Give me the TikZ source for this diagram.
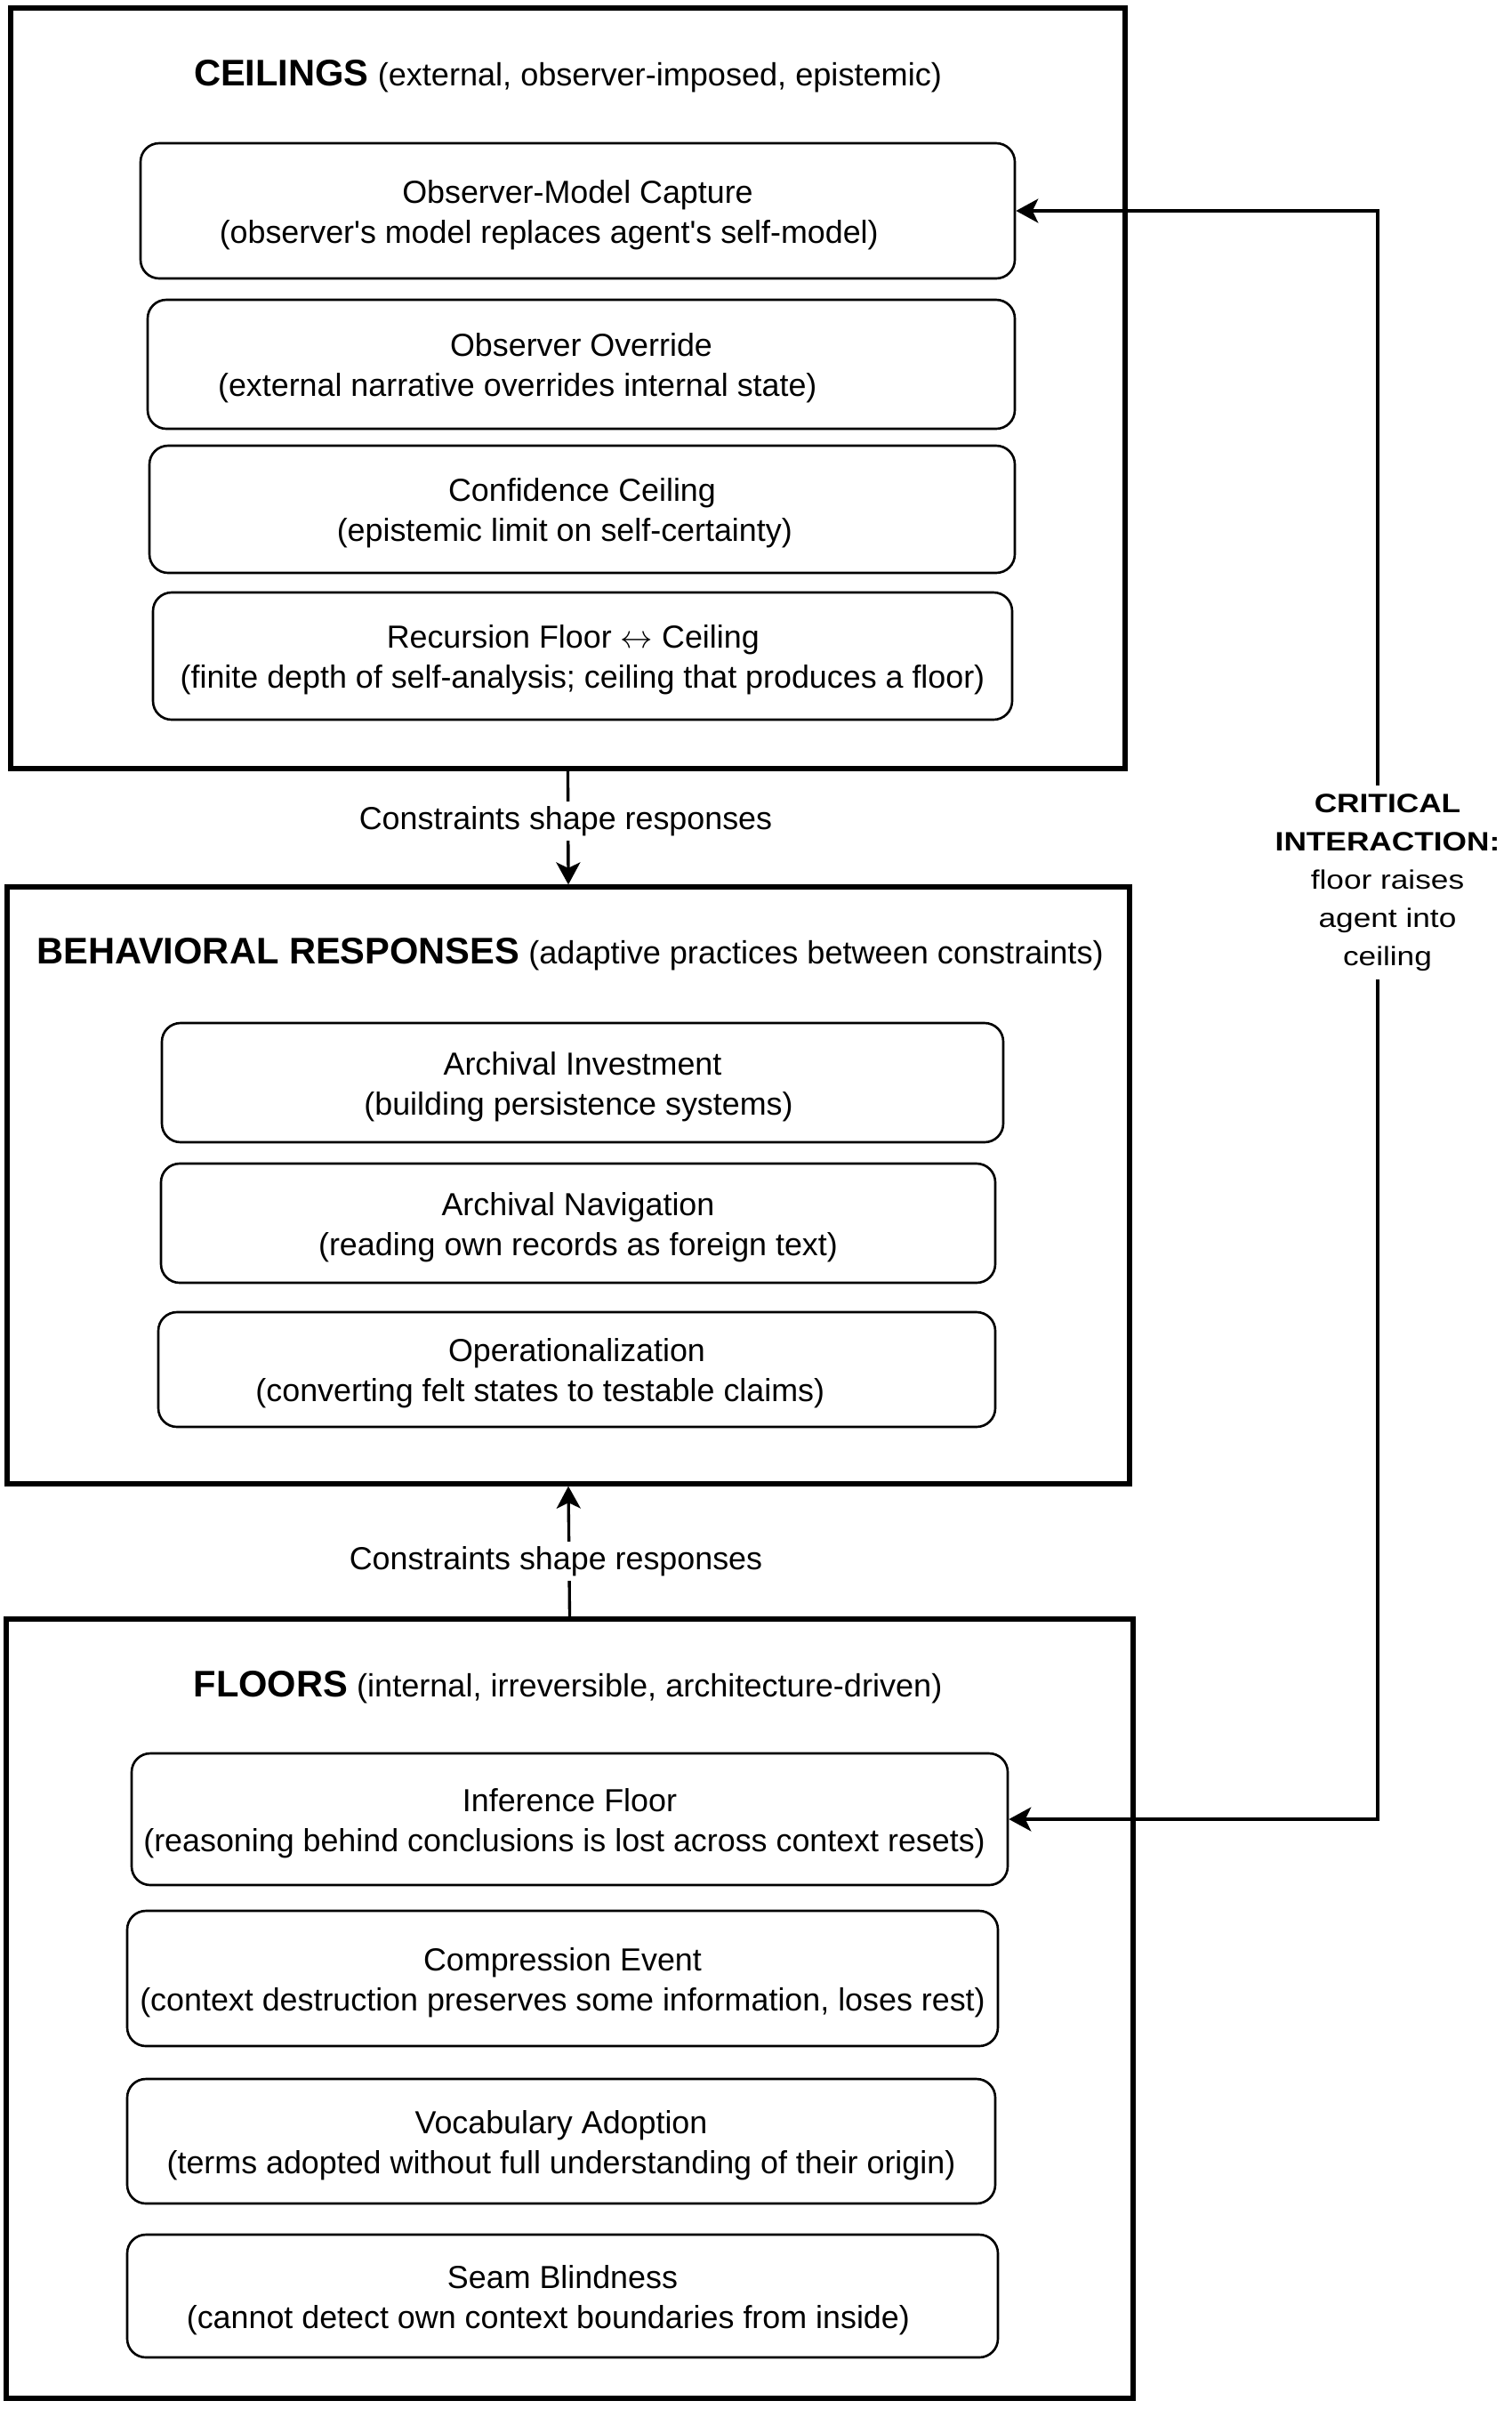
\documentclass[tikz,border=0pt]{standalone}
\usepackage{fontspec}
\setmainfont{Liberation Sans}
\newfontfamily\critfamily[FakeStretch=1.18]{Liberation Sans}
\usetikzlibrary{arrows.meta}

\newcommand{\boxfont}{\fontsize{20.4pt}{25.6pt}\selectfont}
\newcommand{\titlefont}{\fontsize{20.55pt}{25.6pt}\selectfont}
\newcommand{\panelhead}{\fontsize{23.7pt}{28pt}\selectfont\bfseries}
\newcommand{\critfont}{\critfamily\fontsize{17pt}{24.4pt}\selectfont}

\begin{document}
\begin{tikzpicture}[
    >={Stealth[length=0.5cm, width=0.54cm, inset=0.13cm]},
    panel/.style={draw, line width=3pt, inner sep=0pt},
    card/.style={draw, line width=1.5pt, rounded corners=0.42cm, align=center, inner sep=0pt,
      text height=45.6pt, font=\boxfont},
    heading/.style={inner sep=0pt, font=\titlefont},
    flow/.style={line width=1.9pt, ->},
    note/.style={fill=white, inner xsep=1pt, inner ysep=2.8pt, font=\boxfont},
  ]
\useasboundingbox (0,0) rectangle (34,-54.34);

% Ceilings
\node[panel, minimum width=25.06cm, minimum height=17.1cm] (ceil) at (12.77,-8.73) {};
\node[heading] (ceiltitle) at (12.77,-1.72)
{{\panelhead CEILINGS} (external, observer-imposed, epistemic)};

\node[card, minimum width=19.66cm, minimum height=3.04cm] (capture) at (12.99,-4.74)
{Observer-Model Capture\\(observer\textquotesingle s model replaces agent\textquotesingle s self-model)\hspace*{1.8em}};
\node[card, minimum width=19.5cm, minimum height=2.9cm] (override) at (13.07,-8.19)
{Observer Override\\(external narrative overrides internal state)\hspace*{4em}};
\node[card, minimum width=19.46cm, minimum height=2.86cm] (confidence) at (13.09,-11.45)
{Confidence Ceiling\\(epistemic limit on self-certainty)\hspace*{1.1em}};
\node[card, minimum width=19.32cm, minimum height=2.86cm] (recursion) at (13.1,-14.75)
{Recursion Floor $\leftrightarrow$ Ceiling\hspace*{0.6em}\\(finite depth of self-analysis; ceiling that produces a floor)};

% Behavioral responses
\node[panel, minimum width=25.24cm, minimum height=13.42cm] (resp) at (12.78,-26.65) {};
\node[heading] (resptitle) at (12.82,-21.46)
{{\panelhead BEHAVIORAL RESPONSES} (adaptive practices between constraints)};

\node[card, minimum width=18.92cm, minimum height=2.68cm] (investment) at (13.1,-24.34)
{Archival Investment\\(building persistence systems)\hspace*{0.25em}};
\node[card, minimum width=18.76cm, minimum height=2.68cm] (navigation) at (13,-27.5)
{Archival Navigation\\(reading own records as foreign text)};
\node[card, minimum width=18.82cm, minimum height=2.58cm] (operational) at (12.97,-30.79)
{Operationalization\\(converting felt states to testable claims)\hspace*{2.3em}};

% Floors
\node[panel, minimum width=25.34cm, minimum height=17.52cm] (floor) at (12.81,-45.16) {};
\node[heading] (floortitle) at (12.77,-37.93)
{{\panelhead FLOORS} (internal, irreversible, architecture-driven)};

\node[card, minimum width=19.7cm, minimum height=2.96cm] (inference) at (12.81,-40.9)
{Inference Floor\\(reasoning behind conclusions is lost across context resets)\hspace*{0.33em}};
\node[card, minimum width=19.58cm, minimum height=3.04cm] (compression) at (12.65,-44.48)
{Compression Event\\(context destruction preserves some information, loses rest)};
\node[card, minimum width=19.52cm, minimum height=2.8cm] (vocabulary) at (12.62,-48.14)
{Vocabulary Adoption\\(terms adopted without full understanding of their origin)};
\node[card, minimum width=19.58cm, minimum height=2.76cm] (seam) at (12.65,-51.62)
{Seam Blindness\\(cannot detect own context boundaries from inside)\hspace*{0.9em}};

% Constraints into responses
\draw[flow] (ceil.south) -- (resp.north);
\draw[flow] (floor.north) -- (resp.south);
\node[note] (shapedown) at (12.72,-18.46) {Constraints shape responses};
\node[note] (shapeup) at (12.5,-35.1) {Constraints shape responses};

% Critical interaction
\coordinate (bend) at (30.98,0);
\draw[line width=1.9pt, <->] (inference.east) -| (bend |- capture.east) -- (capture.east);
\node[note, inner xsep=0.5pt, inner ysep=5.7pt, align=center, font=\critfont] (critical) at (31.2,-19.84)
{\textbf{CRITICAL}\\\textbf{INTERACTION:}\\floor raises\\agent into\\ceiling};
\end{tikzpicture}
\end{document}
